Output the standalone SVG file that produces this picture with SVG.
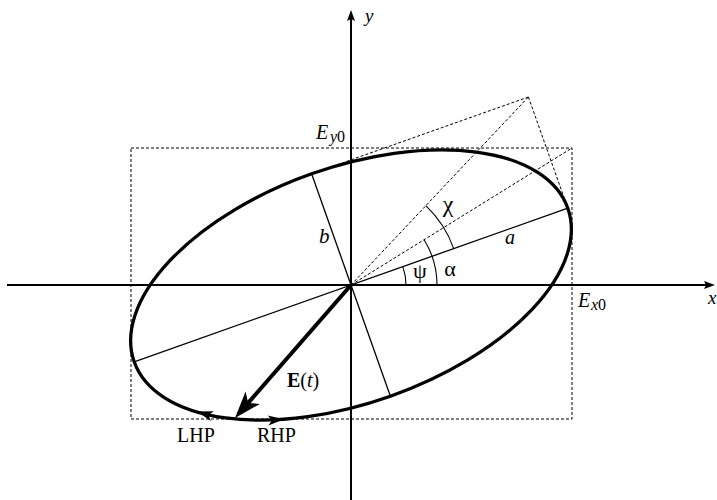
<svg xmlns="http://www.w3.org/2000/svg" xmlns:xlink="http://www.w3.org/1999/xlink" width="717" height="500" viewBox="0 0 717 500">
<style>
.ax{stroke:#000;stroke-width:2;fill:none}
.thin{stroke:#000;stroke-width:1.3;fill:none}
.dash{stroke:#000;stroke-width:1;stroke-dasharray:3,2;fill:none}
.arc{stroke:#000;stroke-width:1.1;fill:none}
.t{font-family:"Liberation Serif","Times New Roman",serif;fill:#000}
.i{font-style:italic}
</style>
<defs>
<path id="axh" d="M0,0 L-11,-4 L-9,0 L-11,4 Z" fill="#000"/>
<path id="sh" d="M0,0 L-16,-5 L-12,0 L-16,5 Z" fill="#000"/>
<path id="bh" d="M0,0 L-27,-9.5 L-20,0 L-27,9.5 Z" fill="#000"/>
</defs>
<rect fill="#fff" width="717" height="500"/>
<g id="box">
<rect class="dash" x="131" y="148" width="441" height="271"/>
</g>
<g id="axes">
<line class="ax" x1="7" y1="285" x2="708" y2="285"/>
<use xlink:href="#axh" href="#axh" transform="translate(715,285)"/>
<line class="ax" x1="351" y1="500" x2="351" y2="17"/>
<use xlink:href="#axh" href="#axh" transform="translate(351,10) rotate(-90)"/>
</g>
<g id="construction">
<line class="dash" x1="351" y1="285" x2="528.4" y2="97"/>
<line class="dash" x1="351" y1="285" x2="572" y2="148"/>
<line class="dash" x1="528.4" y1="97" x2="311.6" y2="173.8"/>
<line class="dash" x1="528.4" y1="97" x2="567.8" y2="208.2"/>
</g>
<g id="axes-of-ellipse">
<line class="thin" x1="567.8" y1="208.2" x2="134.2" y2="361.8"/>
<line class="thin" x1="311.6" y1="173.8" x2="390.4" y2="396.2"/>
</g>
<g id="ellipse">
<ellipse cx="351" cy="285" rx="230" ry="118" transform="rotate(-19.5 351 285)" fill="none" stroke="#000" stroke-width="3.3"/>
<use xlink:href="#sh" href="#sh" transform="translate(197,411.5) rotate(-163.3)"/>
<use xlink:href="#sh" href="#sh" transform="translate(284,419.3) rotate(-4.2)"/>
</g>
<g id="angles">
<path class="arc" d="M406,285 A55,55 0 0 0 402.8,266.6"/>
<path class="arc" d="M437,285 A86,86 0 0 0 424.1,239.7"/>
<path class="arc" d="M453.7,248.6 A109,109 0 0 0 425.8,205.7"/>
</g>
<g id="vector">
<line x1="351" y1="285" x2="248.2" y2="402.9" stroke="#000" stroke-width="4"/>
<use xlink:href="#bh" href="#bh" transform="translate(235,418) rotate(131.1)"/>
</g>
<g id="labels">
<text class="t i" x="365" y="22" font-size="19">y</text>
<text class="t i" x="708" y="304" font-size="19">x</text>
<text class="t" x="316" y="139" font-size="20"><tspan class="i">E</tspan><tspan x="330" y="142" font-size="16"><tspan class="i">y</tspan>0</tspan></text>
<text class="t" x="578" y="307" font-size="20"><tspan class="i">E</tspan><tspan x="591" y="309.5" font-size="16"><tspan class="i">x</tspan>0</tspan></text>
<text class="t" x="448" y="212" font-size="24" text-anchor="middle">χ</text>
<text class="t" x="420" y="278" font-size="22" text-anchor="middle">ψ</text>
<text class="t" x="450" y="276" font-size="22" text-anchor="middle">α</text>
<text class="t i" x="505" y="244" font-size="20">a</text>
<text class="t i" x="319" y="243" font-size="21">b</text>
<text class="t" x="287" y="387" font-size="20"><tspan font-weight="bold">E</tspan>(<tspan class="i">t</tspan>)</text>
<text class="t" x="177" y="442" font-size="20">LHP</text>
<text class="t" x="257" y="442" font-size="20">RHP</text>
</g>
</svg>
